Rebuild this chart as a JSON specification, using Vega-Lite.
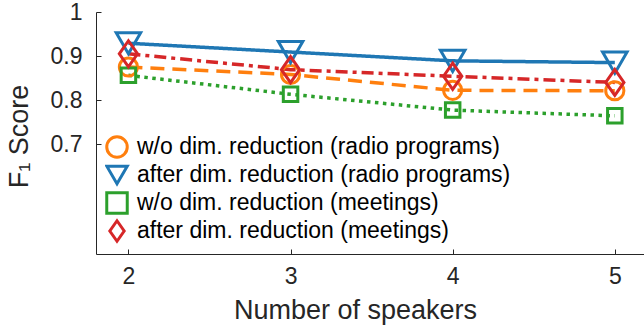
{
  "$schema": "https://vega.github.io/schema/vega-lite/v6.json",
  "width": 548,
  "height": 242,
  "autosize": {"type": "none"},
  "padding": {"left": 96, "top": 12, "right": 0, "bottom": 71},
  "config": {
    "view": {"stroke": null},
    "font": "Liberation Sans",
    "axis": {
      "grid": false,
      "domainColor": "#262626",
      "tickColor": "#262626",
      "labelColor": "#262626",
      "titleColor": "#262626",
      "labelFont": "Liberation Sans",
      "titleFont": "Liberation Sans",
      "labelFontSize": 23,
      "titleFontSize": 27,
      "titleFontWeight": "normal",
      "tickSize": -5,
      "domainWidth": 1
    }
  },
  "data": {
    "values": [
      {"speakers": 2, "f1": 0.875, "series": "w/o dim. reduction (radio programs)"},
      {"speakers": 3, "f1": 0.858, "series": "w/o dim. reduction (radio programs)"},
      {"speakers": 4, "f1": 0.822, "series": "w/o dim. reduction (radio programs)"},
      {"speakers": 5, "f1": 0.821, "series": "w/o dim. reduction (radio programs)"},
      {"speakers": 2, "f1": 0.929, "series": "after dim. reduction (radio programs)"},
      {"speakers": 3, "f1": 0.909, "series": "after dim. reduction (radio programs)"},
      {"speakers": 4, "f1": 0.889, "series": "after dim. reduction (radio programs)"},
      {"speakers": 5, "f1": 0.885, "series": "after dim. reduction (radio programs)"},
      {"speakers": 2, "f1": 0.856, "series": "w/o dim. reduction (meetings)"},
      {"speakers": 3, "f1": 0.813, "series": "w/o dim. reduction (meetings)"},
      {"speakers": 4, "f1": 0.777, "series": "w/o dim. reduction (meetings)"},
      {"speakers": 5, "f1": 0.764, "series": "w/o dim. reduction (meetings)"},
      {"speakers": 2, "f1": 0.905, "series": "after dim. reduction (meetings)"},
      {"speakers": 3, "f1": 0.869, "series": "after dim. reduction (meetings)"},
      {"speakers": 4, "f1": 0.854, "series": "after dim. reduction (meetings)"},
      {"speakers": 5, "f1": 0.840, "series": "after dim. reduction (meetings)"}
    ]
  },
  "encoding": {
    "x": {
      "field": "speakers",
      "type": "quantitative",
      "scale": {"domain": [1.8, 5.18], "nice": false, "zero": false},
      "axis": {
        "values": [2, 3, 4, 5],
        "format": "d",
        "title": "Number of speakers",
        "labelPadding": 16,
        "titleX": 259,
        "titleY": 64,
        "titleBaseline": "alphabetic",
        "titleAlign": "center"
      }
    },
    "y": {
      "field": "f1",
      "type": "quantitative",
      "scale": {"domain": [0.45, 1.0], "nice": false, "zero": false},
      "axis": {
        "values": [0.7, 0.8, 0.9, 1],
        "labelExpr": "datum.value == 1 ? '1' : format(datum.value, '.1f')",
        "title": "F₁ Score",
        "labelPadding": 19,
        "titleAngle": -90,
        "titleX": -69,
        "titleY": 124,
        "titleBaseline": "alphabetic",
        "titleAlign": "center"
      }
    }
  },
  "layer": [
    {
      "mark": {"type": "line", "strokeWidth": 3.5},
      "encoding": {
        "detail": {"field": "series", "type": "nominal"},
        "stroke": {
          "condition": [
            {"test": "datum.series == 'w/o dim. reduction (radio programs)'", "value": "#ff7f0e"},
            {"test": "datum.series == 'after dim. reduction (radio programs)'", "value": "#1f77b4"},
            {"test": "datum.series == 'w/o dim. reduction (meetings)'", "value": "#2ca02c"}
          ],
          "value": "#d62728"
        },
        "strokeDash": {
          "condition": [
            {"test": "datum.series == 'w/o dim. reduction (radio programs)'", "value": [14, 8]},
            {"test": "datum.series == 'after dim. reduction (radio programs)'", "value": [1, 0]},
            {"test": "datum.series == 'w/o dim. reduction (meetings)'", "value": [3.5, 4.5]}
          ],
          "value": [12, 5, 4, 5]
        }
      }
    },
    {
      "mark": {"type": "point", "filled": false, "strokeWidth": 3, "opacity": 1},
      "encoding": {
        "color": {
          "field": "series",
          "type": "nominal",
          "scale": {
            "domain": ["w/o dim. reduction (radio programs)", "after dim. reduction (radio programs)", "w/o dim. reduction (meetings)", "after dim. reduction (meetings)"],
            "range": ["#ff7f0e", "#1f77b4", "#2ca02c", "#d62728"]
          },
          "legend": {
            "title": null,
            "orient": "none",
            "legendX": 9,
            "legendY": 121,
            "padding": 0,
            "labelFontSize": 23,
            "labelFont": "Liberation Sans",
            "labelColor": "#000000",
            "labelOffset": 8,
            "rowPadding": 0,
            "clipHeight": 28,
            "symbolSize": 420,
            "symbolStrokeWidth": 3,
            "labelLimit": 600,
            "encode": {
              "symbols": {"update": {"size": {"value": 420}}}
            }
          }
        },
        "shape": {
          "field": "series",
          "type": "nominal",
          "scale": {
            "domain": ["w/o dim. reduction (radio programs)", "after dim. reduction (radio programs)", "w/o dim. reduction (meetings)", "after dim. reduction (meetings)"],
            "range": ["circle", "triangle-down", "square", "M0,-1L0.7,0L0,1L-0.7,0Z"]
          }
        },
        "size": {
          "condition": [
            {"test": "datum.series == 'w/o dim. reduction (radio programs)'", "value": 330},
            {"test": "datum.series == 'after dim. reduction (radio programs)'", "value": 600},
            {"test": "datum.series == 'w/o dim. reduction (meetings)'", "value": 210}
          ],
          "value": 680
        }
      }
    }
  ]
}
